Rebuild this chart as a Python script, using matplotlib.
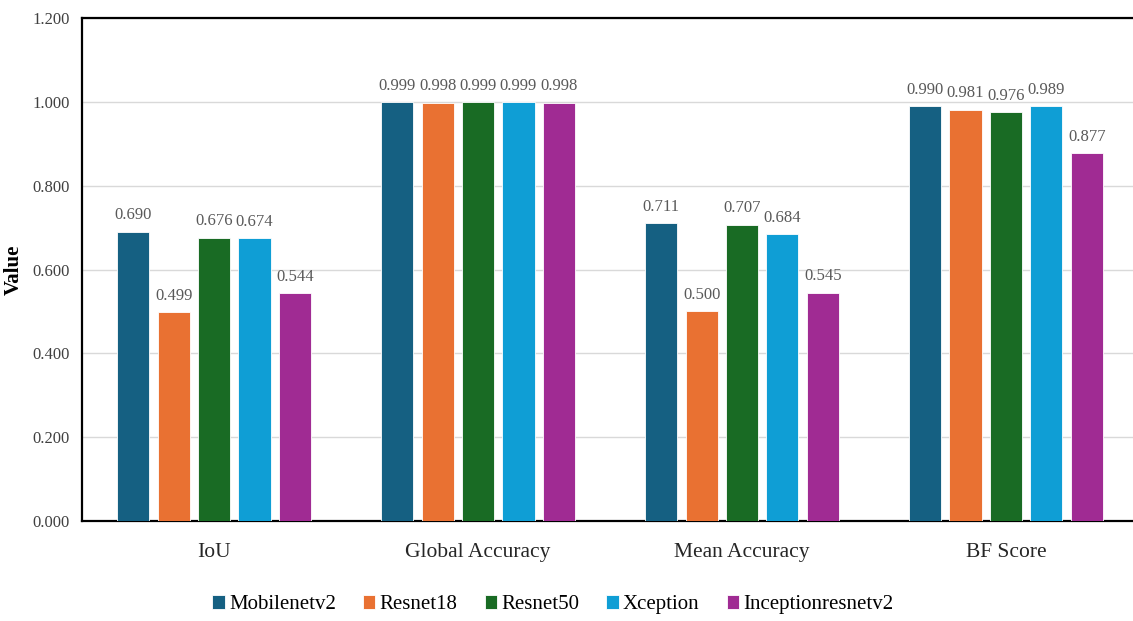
import numpy as np
import matplotlib.pyplot as plt

categories = ['IoU', 'Global Accuracy', 'Mean Accuracy', 'BF Score']
models = ['Mobilenetv2', 'Resnet18', 'Resnet50', 'Xception', 'Inceptionresnetv2']
mobilenetv2 = [0.690, 0.999, 0.711, 0.990]
resnet18 = [0.499, 0.998, 0.500, 0.981]
resnet50 = [0.676, 0.999, 0.707, 0.976]
xception = [0.674, 0.999, 0.684, 0.989]
inceptionresnetv2 = [0.544, 0.998, 0.545, 0.877]
yticks = [0.0, 0.2, 0.4, 0.6, 0.8, 1.0, 1.2]

series = [mobilenetv2, resnet18, resnet50, xception, inceptionresnetv2]
colors = ['#156082', '#E97132', '#196B24', '#0F9ED5', '#A02B93']

plt.rcParams['font.family'] = ['Liberation Serif', 'DejaVu Serif']

fig = plt.figure(figsize=(11.33, 6.21), dpi=100)
ax = fig.add_axes([0.0724, 0.161, 0.932, 0.810])

x = np.arange(len(categories))
step = 0.153
width = 0.122
for i, (name, vals, c) in enumerate(zip(models, series, colors)):
    pos = x + (i - 2) * step
    bars = ax.bar(pos, vals, width, color=c, label=name, edgecolor='white',
                  linewidth=0.6, zorder=3)
    for b, v in zip(bars, vals):
        ax.annotate('%.3f' % v, (b.get_x() + b.get_width() / 2, v),
                    xytext=(0, 6), textcoords='offset points',
                    ha='center', va='bottom', fontsize=12, color='#595959')

ax.set_xlim(-0.5, len(categories) - 0.5)
ax.set_ylim(0, 1.2)
ax.set_yticks(yticks)
ax.set_yticklabels(['%.3f' % t for t in yticks], fontsize=12, color='#404040')
ax.set_xticks(x)
ax.set_xticklabels(categories, fontsize=15.5, color='#262626')
ax.tick_params(axis='both', length=0)
ax.tick_params(axis='y', pad=9)
ax.tick_params(axis='x', pad=16)
ax.yaxis.grid(True, color='#D9D9D9', linewidth=1, zorder=0)
ax.set_axisbelow(True)
ax.set_ylabel('Value', fontsize=15, fontweight='bold', labelpad=6)

for s in ['left', 'top', 'bottom', 'right']:
    ax.spines[s].set_color('black')
    ax.spines[s].set_linewidth(1.6)

fig.legend(loc='center', bbox_to_anchor=(0.488, 0.026), ncol=5, frameon=False,
           fontsize=15, handlelength=0.6, handleheight=0.6, handletextpad=0.2,
           columnspacing=1.3)

fig.savefig('out.png', dpi=100)
